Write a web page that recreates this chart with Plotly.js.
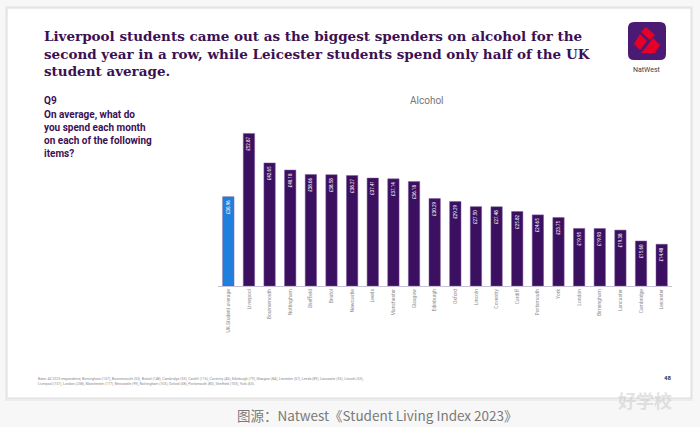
<!DOCTYPE html>
<html>
<head>
<meta charset="utf-8">
<script src="https://cdn.plot.ly/plotly-3.0.1.min.js"></script>
<style>
html,body{margin:0;padding:0;background:#ffffff;}
#chart{width:700px;height:427px;}
</style>
</head>
<body>
<div id="chart"></div>
<script>
// ---- data ----
var categories = ["UK Student average","Liverpool","Bournemouth","Nottingham","Sheffield","Bristol","Newcastle","Leeds","Manchester","Glasgow","Edinburgh","Oxford","Lincoln","Coventry","Cardiff","Portsmouth","York","London","Birmingham","Lancaster","Cambridge","Leicester"];
var spend = [30.96,52.87,42.65,40.18,38.66,38.58,38.27,37.41,37.14,36.18,30.29,29.29,27.50,27.48,25.82,24.65,23.75,19.95,19.93,19.38,15.60,14.48];
var barLabels = spend.map(function(v){return "£" + v.toFixed(2);});
var barColors = categories.map(function(c,i){return i===0 ? "#1f7fdc" : "#3c1060";});

// ---- layout helpers (pixel -> paper) ----
var L = 218, R = 28, T = 125, B = 141, W = 700, H = 427;
var PW = W - L - R, PH = H - T - B;
function px(x){ return (x - L) / PW; }
function py(y){ return (H - B - y) / PH; }
function path(pts){ return "M" + pts.map(function(p){return px(p[0]) + "," + py(p[1]);}).join(" L") + " Z"; }

var purple = "#3c1053";

var trace = {
  type: "bar",
  x: categories,
  y: spend,
  text: barLabels,
  textposition: "inside",
  insidetextanchor: "end",
  textangle: -90,
  textfont: {family: "Roboto, sans-serif", size: 4.5, color: "#ffffff"},
  constraintext: "none",
  marker: {color: barColors, line: {color: "#7a5a9a", width: 0.5}},
  hoverinfo: "none"
};

var shapes = [
  // card shadow and card
  {type:"rect", xref:"paper", yref:"paper", x0:px(5), x1:px(693), y0:py(401), y1:py(6), fillcolor:"#ececec", line:{width:0}, layer:"below"},
  {type:"rect", xref:"paper", yref:"paper", x0:px(7), x1:px(691), y0:py(398), y1:py(8), fillcolor:"#ffffff", line:{color:"#dcdcdc", width:1}, layer:"below"},
  // logo box
  {type:"path", xref:"paper", yref:"paper", path: (function(){
      var x0=628,x1=666,y0=22,y1=60,r=6;
      var p = "M"+px(x0+r)+","+py(y0)+" L"+px(x1-r)+","+py(y0)+" Q"+px(x1)+","+py(y0)+" "+px(x1)+","+py(y0+r)+
              " L"+px(x1)+","+py(y1-r)+" Q"+px(x1)+","+py(y1)+" "+px(x1-r)+","+py(y1)+
              " L"+px(x0+r)+","+py(y1)+" Q"+px(x0)+","+py(y1)+" "+px(x0)+","+py(y1-r)+
              " L"+px(x0)+","+py(y0+r)+" Q"+px(x0)+","+py(y0)+" "+px(x0+r)+","+py(y0)+" Z";
      return p; })(), fillcolor:"#4b1a74", line:{width:0}},
  // NatWest cubes (approximate)
  {type:"path", xref:"paper", yref:"paper", path: path([[646,27],[655,35],[650,40],[641,32]]), fillcolor:"#e60028", line:{width:0}},
  {type:"path", xref:"paper", yref:"paper", path: path([[640,34],[647,41],[640,50],[634,44]]), fillcolor:"#e60028", line:{width:0}},
  {type:"path", xref:"paper", yref:"paper", path: path([[653,38],[660,45],[655,53],[641,53],[647,46]]), fillcolor:"#e60028", line:{width:0}}
];

var annotations = [
  {xref:"paper", yref:"paper", x:px(42), y:py(54), xanchor:"left", yanchor:"middle", align:"left", showarrow:false,
   text:"Liverpool students came out as the biggest spenders on alcohol for the<br>second year in a row, while Leicester students spend only half of the UK<br>student average.",
   font:{family:"DejaVu Serif, serif", size:13.5, color:purple, weight:700}},
  {xref:"paper", yref:"paper", x:px(647), y:py(70), xanchor:"center", yanchor:"middle", showarrow:false,
   text:"NatWest", font:{family:"Roboto, sans-serif", size:7, color:"#3c3c3c"}},
  {xref:"paper", yref:"paper", x:px(42), y:py(100), xanchor:"left", yanchor:"middle", showarrow:false,
   text:"Q9", font:{family:"Roboto, sans-serif", size:10, color:purple, weight:700}},
  {xref:"paper", yref:"paper", x:px(42), y:py(134), xanchor:"left", yanchor:"middle", align:"left", showarrow:false,
   text:"On average, what do<br>you spend each month<br>on each of the following<br>items?",
   font:{family:"Roboto, sans-serif", size:10, color:purple, weight:700}},
  {xref:"paper", yref:"paper", x:px(427), y:py(100), xanchor:"center", yanchor:"middle", showarrow:false,
   text:"Alcohol", font:{family:"Roboto, sans-serif", size:10, color:"#777777"}},
  {xref:"paper", yref:"paper", x:px(36), y:py(381), xanchor:"left", yanchor:"middle", align:"left", showarrow:false,
   text:"Base: All 2023 respondents, Birmingham (157), Bournemouth (53), Bristol (148), Cambridge (53), Cardiff (116), Coventry (46), Edinburgh (79), Glasgow (84), Leicester (57), Leeds (89), Lancaster (55), Lincoln (53),<br>Liverpool (137), London (238), Manchester (177), Newcastle (99), Nottingham (103), Oxford (58), Portsmouth (80), Sheffield (103), York (63).",
   font:{family:"Roboto, sans-serif", size:3.5, color:"#8a8a8a"}},
  {xref:"paper", yref:"paper", x:px(667), y:py(377), xanchor:"center", yanchor:"middle", showarrow:false,
   text:"48", font:{family:"Roboto, sans-serif", size:6, color:"#333333", weight:700}},
  {xref:"paper", yref:"paper", x:px(377), y:py(415), xanchor:"center", yanchor:"middle", showarrow:false,
   text:"图源：Natwest《Student Living Index 2023》", font:{family:"Noto Sans CJK SC, sans-serif", size:13.5, color:"#7a7a7a"}},
  {xref:"paper", yref:"paper", x:px(645), y:py(400), xanchor:"center", yanchor:"middle", showarrow:false,
   text:"好学校", font:{family:"Noto Sans CJK SC, sans-serif", size:18, color:"rgba(200,200,200,0.5)", weight:700}}
];

var layout = {
  width: W, height: H,
  margin: {l:L, r:R, t:T, b:B, pad:0},
  paper_bgcolor: "#f7f7f7",
  plot_bgcolor: "rgba(0,0,0,0)",
  showlegend: false,
  bargap: 0.45,
  font: {family: "Roboto, sans-serif"},
  xaxis: {
    type: "category",
    tickangle: -90,
    tickfont: {size: 5, color: "#8a8a8a"},
    showline: true, linecolor: "#c8c0d4", linewidth: 1,
    ticks: "", showgrid: false, zeroline: false,
    fixedrange: true, automargin: false
  },
  yaxis: {
    range: [0, 55.8],
    visible: false,
    showgrid: false, zeroline: false,
    fixedrange: true
  },
  shapes: shapes,
  annotations: annotations
};

Plotly.newPlot("chart", [trace], layout, {displayModeBar: false, staticPlot: true});
</script>
</body>
</html>
